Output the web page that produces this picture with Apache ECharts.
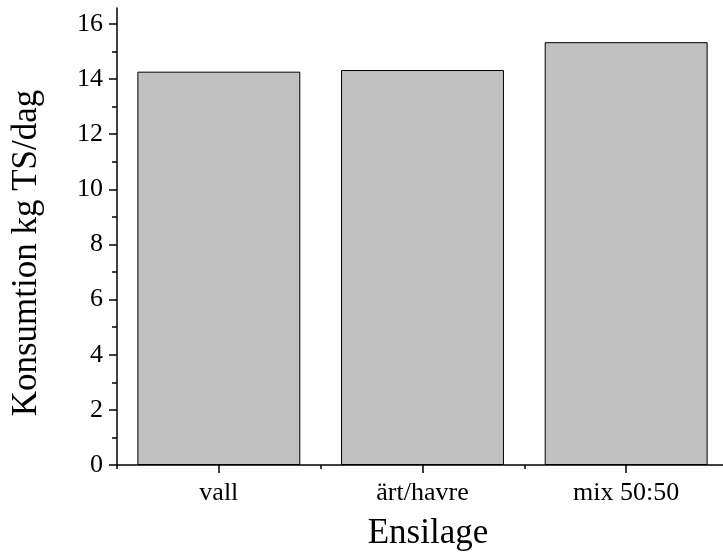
<!DOCTYPE html>
<html>
<head>
<meta charset="utf-8">
<script src="https://cdn.jsdelivr.net/npm/echarts@6/dist/echarts.min.js"></script>
<style>html,body{margin:0;padding:0;background:#fff}#c{width:723px;height:552px}</style>
</head>
<body>
<div id="c"></div>
<script>
var categories = ['vall', 'ärt/havre', 'mix 50:50'];
var values = [14.27, 14.33, 15.34];
var yTicks = [0, 2, 4, 6, 8, 10, 12, 14, 16];
var yMinorTicks = [1, 3, 5, 7, 9, 11, 13, 15];
var xName = 'Ensilage';
var yName = 'Konsumtion kg TS/dag';

var font = 'Liberation Serif';
var chart = echarts.init(document.getElementById('c'));
chart.setOption({
  animation: false,
  grid: {left: 117, top: 8, width: 611, height: 457, containLabel: false, outerBoundsMode: 'none'},
  graphic: [{
    type: 'text', x: 428, y: 534,
    style: {text: xName, fontFamily: font, fontSize: 35, fill: '#000', align: 'center', verticalAlign: 'middle'}
  }, {
    type: 'text', x: 27, y: 253, rotation: Math.PI / 2,
    style: {text: yName, fontFamily: font, fontSize: 35, fill: '#000', align: 'center', verticalAlign: 'middle'}
  }],
  xAxis: [{
    type: 'category', data: categories,
    axisLine: {show: true, lineStyle: {color: '#000', width: 1.5}},
    axisTick: {show: true, alignWithLabel: true, length: 8, lineStyle: {color: '#000', width: 1.5}},
    axisLabel: {show: true, fontFamily: font, fontSize: 26, color: '#000', margin: 15},
    splitLine: {show: false}
  }, {
    type: 'category', data: categories, position: 'bottom',
    axisLine: {show: false},
    axisTick: {show: true, alignWithLabel: false, length: 4, lineStyle: {color: '#000', width: 1.5}},
    axisLabel: {show: false},
    splitLine: {show: false}
  }],
  yAxis: [{
    type: 'value', min: 0, max: 16.58,
    axisLine: {show: true, lineStyle: {color: '#000', width: 1.5}},
    axisTick: {show: true, length: 8, customValues: yTicks, lineStyle: {color: '#000', width: 1.5}},
    axisLabel: {fontFamily: font, fontSize: 26, color: '#000', margin: 14, customValues: yTicks},
    splitLine: {show: false}
  }, {
    type: 'value', min: 0, max: 16.58, position: 'left',
    axisLine: {show: false},
    axisTick: {show: true, length: 5, customValues: yMinorTicks, lineStyle: {color: '#000', width: 1.5}},
    axisLabel: {show: false},
    splitLine: {show: false}
  }],
  series: [{
    type: 'bar', data: values, barCategoryGap: '20%',
    itemStyle: {color: '#c0c0c0', borderColor: '#000', borderWidth: 1}
  }]
});
</script>
</body>
</html>
